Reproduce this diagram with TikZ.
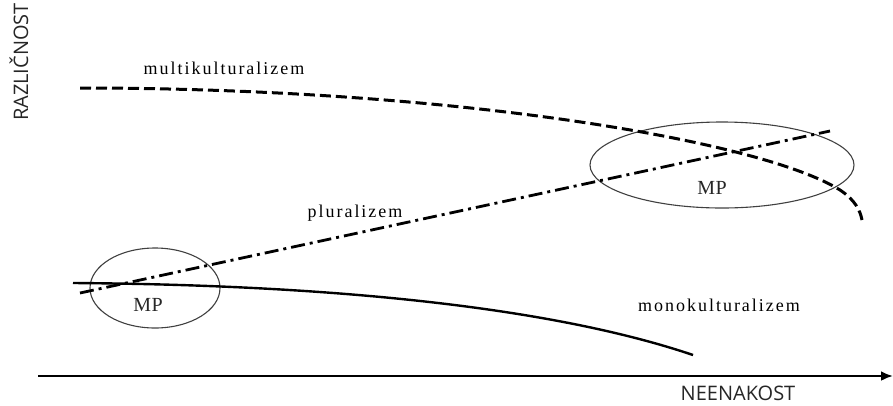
\documentclass[tikz,border=0pt]{standalone}
\usepackage{fontspec}
\setmainfont{Liberation Serif}
\setsansfont{Open Sans}
\usetikzlibrary{shapes.geometric,arrows.meta,positioning}

\begin{document}
\begin{tikzpicture}[
    x=1pt, y=-1pt,
    axislabel/.style={font=\fontsize{20}{22}\selectfont\sffamily, text=black!85, inner sep=0pt},
    curvelabel/.style={font=\fontsize{18}{20}\selectfont\addfontfeature{LetterSpace=11}, text=black, inner sep=0pt},
    mplabel/.style={font=\fontsize{20}{22}\selectfont\addfontfeature{LetterSpace=2}, text=black!85, inner sep=0pt},
    zone/.style={ellipse, draw=black!75, line width=1.1pt, inner sep=0pt},
    axisline/.style={-{Latex[length=12pt,width=10pt]}, line width=2.6pt},
    multi/.style={line width=3pt, dash pattern=on 11pt off 5pt},
    plural/.style={line width=2.8pt, dash pattern=on 14pt off 5pt on 3pt off 5pt},
    mono/.style={line width=2.4pt}
]

\useasboundingbox (0,0) rectangle (893,405);

% === AXES ===
\coordinate (origin) at (38,376);
\coordinate (axisend) at (893,376);
\draw[axisline] (origin) -- (axisend);
\node[axislabel] (xlabel) at (738,393) {NEENAKOST};
\node[axislabel, rotate=90] (ylabel) at (19,62) {RAZLIČNOST};

% === ZONES ===
\node[zone, minimum width=130pt, minimum height=80pt] (mpleft) at (155,288) {};
\node[zone, minimum width=264pt, minimum height=86pt] (mpright) at (722,165) {};
\node[mplabel] (mpleftlabel) at (148,305) {MP};
\node[mplabel] (mprightlabel) at (712,188) {MP};

% === CURVES ===
\coordinate (multistart) at (80,88);
\coordinate (multibend) at (840,190);
\coordinate (multiend) at (862,220);
\draw[multi] (multistart) .. controls (450,88) and (760,140) .. (multibend)
    .. controls (855,200) and (860,210) .. (multiend);

\coordinate (pluralstart) at (80,293);
\coordinate (pluralend) at (830,131);
\draw[plural] (pluralstart) -- (pluralend);

\coordinate (monostart) at (73,283);
\coordinate (monoend) at (693,355);
\draw[mono] (monostart) .. controls (350,285) and (560,310) .. (monoend);

% === LABELS ===
\node[curvelabel] (multilabel) at (224,68) {multikulturalizem};
\node[curvelabel] (plurallabel) at (355,213) {pluralizem};
\node[curvelabel] (monolabel) at (719,305) {monokulturalizem};

\end{tikzpicture}
\end{document}
